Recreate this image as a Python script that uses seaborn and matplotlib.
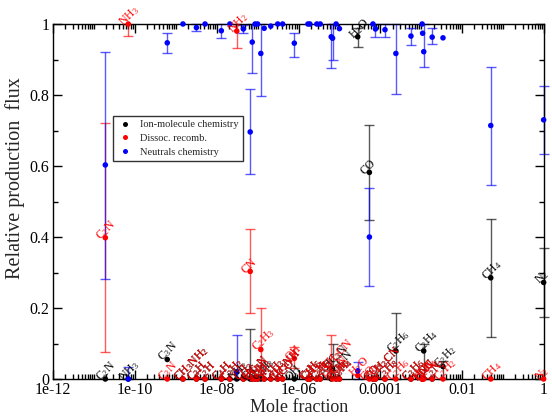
import numpy as np
import pandas as pd
import matplotlib
matplotlib.use("Agg")
import matplotlib.pyplot as plt
import matplotlib.ticker as mticker
import seaborn as sns

# ---- data -------------------------------------------------------------
species = [
    "C$_2$N", "NH$_3$", "C$_3$N", "CH$_3$NH$_2$", "C$_3$H", "C$_2$H", "C$_4$H",
    "C$_3$H$_2$", "NH$_2$", "CH$_2$", "CN", "HC$_5$N", "CH", "C$_3$H$_3$",
    "C$_2$H$_3$", "NH", "C$_4$H$_3$", "CH$_2$NH", "HCO", "OH", "C$_2$H$_5$",
    "CH$_3$", "C$_3$H$_5$", "C$_4$H$_2$", "CH$_3$CN", "HC$_3$N", "C$_6$H$_6$",
    "C$_3$H$_4$", "H$_2$O", "CO", "CO$_2$", "C$_2$H$_3$CN", "C$_3$H$_8$",
    "C$_2$H$_6$", "C$_3$H$_6$", "HCN", "HNC", "C$_2$H$_4$", "C$_2$N$_2$",
    "C$_2$H$_2$", "CH$_4$", "N$_2$",
]
mole_fraction = [
    1.9e-11, 6.9e-11, 6.2e-10, 1.5e-09, 3.2e-09, 5.2e-09, 1.3e-08,
    2.1e-08, 3.1e-08, 4.5e-08, 6.6e-08, 7.4e-08, 8.7e-08, 1.0e-07,
    1.2e-07, 1.45e-07, 2.1e-07, 3.1e-07, 4.1e-07, 7.9e-07, 1.7e-06,
    1.9e-06, 2.8e-06, 3.4e-06, 6.3e-06, 6.8e-06, 8.3e-06,
    1.0e-05, 2.8e-05, 5.4e-05, 6.6e-05, 7.6e-05, 1.3e-04,
    2.4e-04, 5.6e-04, 1.05e-03, 1.08e-03, 1.15e-03, 1.85e-03,
    3.4e-03, 5.0e-02, 9.8e-01,
]

# ion-molecule chemistry: value, lower end, upper end of the error bar
ion_flux = [0.0, 0.0, 0.055, 0.0, 0.0, 0.0, 0.0, 0.0, 0.0, 0.0, 0.0, 0.0, 0.0, 0.0,
            0.0, 0.0, 0.0, 0.0, 0.0, 0.0, 0.0, 0.0, 0.0, 0.0, 0.0, 0.03, 0.0,
            0.0, 0.964, 0.582, 0.0, 0.0, 0.0, 0.079, 0.0, 0.0, 0.0, 0.079, 0.0,
            0.035, 0.285, 0.272]
ion_lo = [0.0, 0.0, 0.055, 0.0, 0.0, 0.0, 0.0, 0.0, 0.0, 0.0, 0.0, 0.0, 0.0, 0.0,
          0.0, 0.0, 0.0, 0.0, 0.0, 0.0, 0.0, 0.0, 0.0, 0.0, 0.0, 0.0, 0.0,
          0.0, 0.936, 0.447, 0.0, 0.0, 0.0, 0.0, 0.0, 0.0, 0.0, 0.0, 0.0,
          0.0, 0.119, 0.175]
ion_hi = [0.0, 0.0, 0.055, 0.0, 0.0, 0.0, 0.0, 0.0, 0.0, 0.0, 0.14, 0.0, 0.0, 0.0,
          0.0, 0.0, 0.0, 0.0, 0.0, 0.0, 0.0, 0.0, 0.0, 0.0, 0.0, 0.10, 0.0,
          0.0, 0.99, 0.716, 0.0, 0.0, 0.0, 0.185, 0.0, 0.0, 0.0, 0.10, 0.0,
          0.05, 0.452, 0.37]

# dissociative recombination
dr_flux = [0.398, 1.0, 0.0, 0.0, 0.0, 0.0, 0.0, 0.0, 0.98, 0.0, 0.303, 0.0, 0.0, 0.0,
           0.083, 0.0, 0.0, 0.0, 0.0, 0.058, 0.0, 0.0, 0.0, 0.0, 0.03, 0.0, 0.0,
           0.0, 0.01, 0.0, 0.0, 0.0, 0.0, 0.0, 0.0, 0.0, 0.0, 0.0, 0.0,
           0.0, 0.0, 0.0]
dr_lo = [0.077, 0.966, 0.0, 0.0, 0.0, 0.0, 0.0, 0.0, 0.931, 0.0, 0.186, 0.0, 0.0, 0.0,
         0.0, 0.0, 0.0, 0.0, 0.0, 0.03, 0.0, 0.0, 0.0, 0.0, 0.0, 0.0, 0.0,
         0.0, 0.0, 0.0, 0.0, 0.0, 0.0, 0.0, 0.0, 0.0, 0.0, 0.0, 0.0,
         0.0, 0.0, 0.0]
dr_hi = [0.72, 1.0, 0.0, 0.0, 0.0, 0.0, 0.0, 0.0, 1.0, 0.0, 0.423, 0.0, 0.0, 0.0,
         0.20, 0.0, 0.0, 0.0, 0.0, 0.09, 0.0, 0.0, 0.0, 0.0, 0.124, 0.0, 0.0,
         0.0, 0.0, 0.0, 0.0, 0.0, 0.0, 0.0, 0.0, 0.0, 0.0, 0.0, 0.0,
         0.0, 0.0, 0.0]

# neutral chemistry
neu_flux = [0.603, 0.0, 0.947, 1.0, 0.99, 1.0, 0.981, 1.0, 0.02, 0.986, 0.696, 0.949, 1.0, 1.0,
            0.917, 0.988, 0.994, 1.0, 1.0, 0.946, 1.0, 1.0, 1.0, 1.0, 0.964, 0.96, 1.0,
            0.987, 0.023, 0.40, 1.0, 0.986, 0.984, 0.917, 0.966, 1.0, 0.974, 0.922, 0.963,
            0.961, 0.714, 0.73]
neu_lo = [0.282, 0.0, 0.917, 1.0, 0.98, 1.0, 0.96, 1.0, 0.0, 0.976, 0.577, 0.861, 1.0, 1.0,
          0.798, 0.988, 0.994, 1.0, 1.0, 0.908, 1.0, 1.0, 1.0, 1.0, 0.875, 0.899, 1.0,
          0.987, 0.0, 0.262, 1.0, 0.964, 0.964, 0.802, 0.94, 1.0, 0.974, 0.88, 0.944,
          0.961, 0.546, 0.633]
neu_hi = [0.922, 0.033, 0.976, 1.0, 1.0, 1.0, 1.0, 1.0, 0.124, 0.996, 0.816, 1.0, 1.0, 1.0,
          1.0, 0.988, 0.994, 1.0, 1.0, 0.976, 1.0, 1.0, 1.0, 1.0, 1.0, 1.0, 1.0,
          0.987, 0.049, 0.537, 1.0, 1.0, 1.0, 1.0, 0.99, 1.0, 0.974, 1.0, 0.99,
          0.961, 0.88, 0.825]

mechanisms = ["Ion-molecule chemistry", "Dissoc. recomb.", "Neutrals chemistry"]
colors = {"Ion-molecule chemistry": "#000000",
          "Dissoc. recomb.": "#ff0000",
          "Neutrals chemistry": "#0000ff"}

# ---- long-form table ----------------------------------------------------
frames = []
for mech, v, lo, hi in zip(mechanisms,
                           [ion_flux, dr_flux, neu_flux],
                           [ion_lo, dr_lo, neu_lo],
                           [ion_hi, dr_hi, neu_hi]):
    frames.append(pd.DataFrame({"species": species, "x": mole_fraction,
                                "flux": v, "lo": lo, "hi": hi,
                                "mechanism": mech}))
df = pd.concat(frames, ignore_index=True)

# ---- style ----------------------------------------------------------------
sns.set_theme(style="ticks")
plt.rcParams.update({
    "font.family": ["Liberation Serif", "DejaVu Serif"],
    "mathtext.fontset": "custom",
    "mathtext.rm": "Liberation Serif",
    "mathtext.it": "Liberation Serif:italic",
    "mathtext.bf": "Liberation Serif:bold",
    "axes.linewidth": 1.0,
    "axes.edgecolor": "black",
})

fig = plt.figure(figsize=(5.52, 4.16), dpi=100)
ax = fig.add_axes([53 / 552, 37 / 416, 491 / 552, 355 / 416])

# error bars first, then the dots on top
for mech in mechanisms:
    sub = df[(df.mechanism == mech) & (df.hi - df.lo > 0)]
    ax.errorbar(sub.x, sub.flux,
                yerr=[sub.flux - sub.lo, sub.hi - sub.flux],
                fmt="none", ecolor=colors[mech], alpha=0.65,
                elinewidth=1.0, capsize=3.3, capthick=1.0, zorder=2,
                clip_on=False)

sns.scatterplot(data=df, x="x", y="flux", hue="mechanism",
                hue_order=mechanisms, palette=colors, s=16,
                edgecolor="none", linewidth=0, ax=ax, zorder=3,
                clip_on=False)

# species names next to the ion-molecule and recombination points
for mech in ["Ion-molecule chemistry", "Dissoc. recomb."]:
    sub = df[df.mechanism == mech]
    for _, r in sub.iterrows():
        ax.annotate(r.species, (r.x, r.flux), xytext=(-5, 0),
                    textcoords="offset points", rotation=45,
                    rotation_mode="anchor", ha="left", va="center",
                    fontsize=8.5, color=colors[mech], zorder=4,
                    annotation_clip=False)

# ---- axes -------------------------------------------------------------
ax.set_xscale("log")
ax.set_xlim(1e-12, 1)
ax.set_ylim(0, 1)

major_x = [1e-12, 1e-10, 1e-08, 1e-06, 1e-04, 1e-02, 1]
major_x_labels = ["1e-12", "1e-10", "1e-08", "1e-06", "0.0001", "0.01", "1"]
ax.xaxis.set_major_locator(mticker.FixedLocator(major_x))
ax.xaxis.set_major_formatter(mticker.FixedFormatter(major_x_labels))
minor_x = [k * 10.0 ** d for d in range(-12, 0) for k in range(1, 10)
           if not (k == 1 and d % 2 == 0)]
ax.xaxis.set_minor_locator(mticker.FixedLocator(minor_x))
ax.xaxis.set_minor_formatter(mticker.NullFormatter())

ax.yaxis.set_major_locator(mticker.FixedLocator([0, 0.2, 0.4, 0.6, 0.8, 1.0]))
ax.yaxis.set_major_formatter(mticker.FixedFormatter(["0", "0.2", "0.4", "0.6", "0.8", "1"]))
ax.yaxis.set_minor_locator(mticker.FixedLocator([0.1, 0.3, 0.5, 0.7, 0.9]))

ax.tick_params(which="both", direction="in", top=True, right=True,
               width=1.0, colors="black", labelsize=11.5)
ax.tick_params(which="major", length=6.5)
ax.tick_params(axis="x", which="major", pad=2)
ax.tick_params(axis="y", which="major", pad=2.5)
ax.tick_params(which="minor", length=3.6)

for s in ax.spines.values():
    s.set_visible(True)
    s.set_color("black")
    s.set_linewidth(1.0)

ax.set_xlabel("Mole fraction", fontsize=13)
ax.set_ylabel("Relative production  flux", fontsize=14.5)
ax.xaxis.set_label_coords(0.501, -0.057)
ax.yaxis.set_label_coords(-0.058, 0.566)

leg = ax.legend(loc="upper left", bbox_to_anchor=(0.1216, 0.7417),
                borderaxespad=0, frameon=True, fancybox=False,
                fontsize=7.5, markerscale=0.9, handletextpad=0.6,
                labelspacing=0.45, borderpad=0.4, handlelength=1.6)
leg.get_frame().set_edgecolor("black")
leg.get_frame().set_linewidth(1.0)
leg.set_title(None)

fig.savefig("out.png", dpi=100)
